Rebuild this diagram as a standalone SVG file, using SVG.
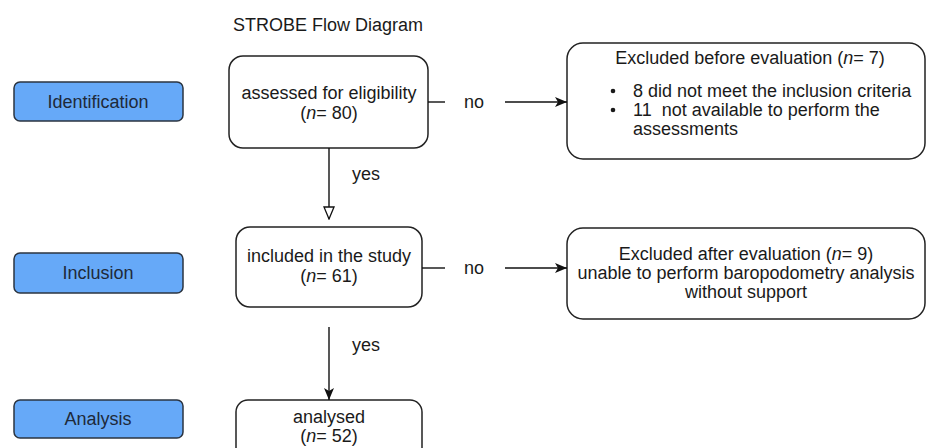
<svg xmlns="http://www.w3.org/2000/svg" width="927" height="448" viewBox="0 0 927 448">
<style>
text{font-family:"Liberation Sans",Arial,sans-serif;font-size:18px;fill:#1a1a1a}
.c{text-anchor:middle}
.stage rect{fill:#66a9f8;stroke:#2b3440;stroke-width:1.5}
.stage text{fill:#1e2a3a}
.box rect{fill:#fff;stroke:#222;stroke-width:1.5}
.conn line{stroke:#111;stroke-width:1.4;fill:none}
</style>
<defs>
<marker id="fill" viewBox="0 0 12 10" refX="12" refY="5" markerWidth="12" markerHeight="10" markerUnits="userSpaceOnUse" orient="auto">
<path d="M0,0 L12,5 L0,10 L3,5 Z" fill="#111"/>
</marker>
<marker id="hollow" viewBox="0 0 14 12" refX="13" refY="6" markerWidth="14" markerHeight="12" markerUnits="userSpaceOnUse" orient="auto">
<path d="M1,1 L13,6 L1,11 Z" fill="#fff" stroke="#111" stroke-width="1.3"/>
</marker>
</defs>
<rect width="927" height="448" fill="#fff"/>
<text x="233" y="31">STROBE Flow Diagram</text>

<g id="identification" class="stage"><rect x="14" y="82" width="169" height="39" rx="6"/><text class="c" x="98" y="108">Identification</text></g>
<g id="inclusion" class="stage"><rect x="14" y="253" width="169" height="40" rx="6"/><text class="c" x="98" y="279">Inclusion</text></g>
<g id="analysis" class="stage"><rect x="14" y="400" width="169" height="38" rx="6"/><text class="c" x="98" y="425">Analysis</text></g>

<g id="assessed" class="box"><rect x="229" y="56" width="199" height="92" rx="14"/>
<text class="c" x="329" y="99">assessed for eligibility</text>
<text class="c" x="329" y="119">(<tspan font-style="italic">n</tspan>= 80)</text></g>

<g id="excluded-before" class="box"><rect x="567" y="43" width="358" height="116" rx="16"/>
<text class="c" x="750" y="64">Excluded before evaluation (<tspan font-style="italic">n</tspan>= 7)</text>
<circle cx="613" cy="91" r="2.3" fill="#1a1a1a"/>
<circle cx="613" cy="110" r="2.3" fill="#1a1a1a"/>
<text x="633" y="97">8 did not meet the inclusion criteria</text>
<text x="633" y="116" xml:space="preserve">11  not available to perform the</text>
<text x="633" y="135">assessments</text></g>

<g id="included" class="box"><rect x="236" y="227" width="186" height="80" rx="14"/>
<text class="c" x="329" y="262">included in the study</text>
<text class="c" x="329" y="282">(<tspan font-style="italic">n</tspan>= 61)</text></g>

<g id="excluded-after" class="box"><rect x="567" y="228" width="358" height="91" rx="16"/>
<text class="c" x="746" y="260">Excluded after evaluation (<tspan font-style="italic">n</tspan>= 9)</text>
<text class="c" x="746" y="279">unable to perform baropodometry analysis</text>
<text class="c" x="746" y="298">without support</text></g>

<g id="analysed" class="box"><rect x="236" y="400" width="186" height="60" rx="12"/>
<text class="c" x="329" y="423">analysed</text>
<text class="c" x="329" y="442">(<tspan font-style="italic">n</tspan>= 52)</text></g>

<g id="connectors" class="conn">
<line x1="428" y1="102" x2="445" y2="102"/>
<line x1="505" y1="102" x2="567" y2="102" marker-end="url(#fill)"/>
<line x1="329" y1="148" x2="329" y2="219" marker-end="url(#hollow)"/>
<line x1="422" y1="268" x2="445" y2="268"/>
<line x1="505" y1="268" x2="567" y2="268" marker-end="url(#fill)"/>
<line x1="329" y1="327" x2="329" y2="400" marker-end="url(#fill)"/>
<text x="464" y="108">no</text>
<text x="464" y="274">no</text>
<text x="352" y="180">yes</text>
<text x="352" y="351">yes</text>
</g>
</svg>
